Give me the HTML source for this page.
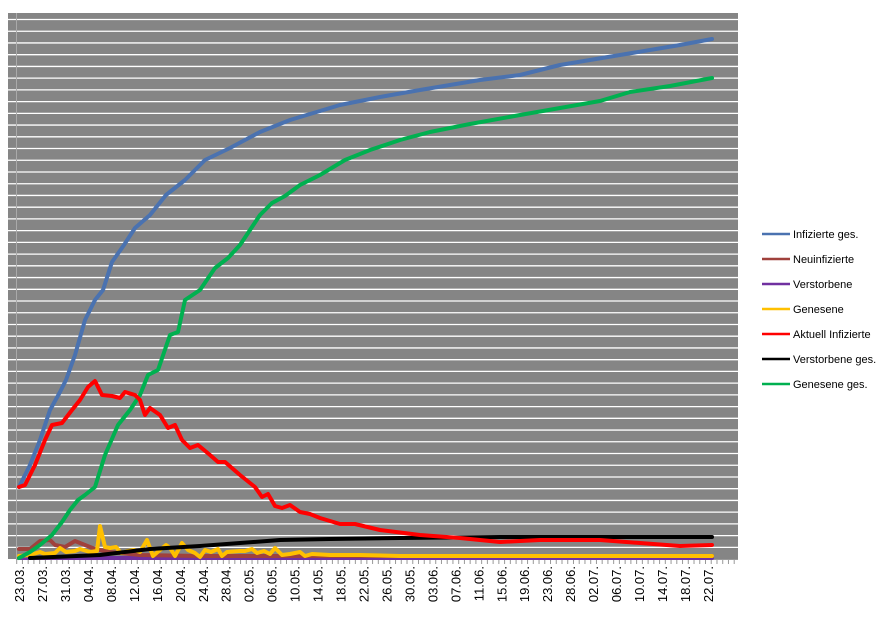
<!DOCTYPE html>
<html><head><meta charset="utf-8"><style>
body{margin:0;background:#fff;}
svg{display:block;font-family:"Liberation Sans",sans-serif;}
</style></head><body>
<svg width="890" height="628" viewBox="0 0 890 628" xmlns="http://www.w3.org/2000/svg">
<rect x="8" y="13" width="730" height="546" fill="#858585"/>
<g id="grid" stroke="#fff" stroke-width="1.3"></g>
<line x1="16.5" y1="13" x2="16.5" y2="559" stroke="#aaa" stroke-width="1"/>
<line x1="16" y1="559.5" x2="738" y2="559.5" stroke="#999" stroke-width="1"/>
<g id="ticks" stroke="#999" stroke-width="1"></g>
<g id="labels" font-size="13" fill="#000"></g>
<g fill="none" stroke-width="4" stroke-linejoin="round" stroke-linecap="round">
<polyline stroke="#7030a0" points="19,558 712,558"/>
<polyline stroke="#a0413c" points="19,549 30,549 40,541 50,540 55,545 65,547 75,541 85,545 95,549 110,552 140,555 200,556 712,556"/>
<polyline stroke="#ffc000" points="19,556 30,555 40,552 45,554 55,553 60,548 66,552 75,551 80,549 90,552 97,551 100,526 105,547 110,548 116,547 121,553 128,551 134,550 140,552 147,540 153,556 160,550 166,545 170,548 175,556 182,543 188,550 195,553 200,557 205,550 211,552 218,549 222,556 227,552 240,551 245,551 252,549 257,553 264,551 270,554 275,548 282,555 290,554 300,552 305,556 312,554 330,555 360,555 400,556 440,556 480,556 520,556 560,556 620,556 712,556"/>
<polyline stroke="#000" points="30,558 100,555 150,549 200,546 240,543 280,540 330,539 400,538 500,537 600,537 712,537"/>
<polyline stroke="#00b050" points="19,558 30,552 40,545 52,535 62,522 70,510 78,500 85,495 95,487 105,455 118,425 130,410 140,395 148,375 158,370 170,335 178,332 185,300 200,290 215,268 228,258 240,245 250,230 260,215 272,203 285,196 300,185 320,175 345,160 370,150 400,140 430,132 470,124 520,115 560,108 600,101 630,92 670,86 712,78"/>
<polyline stroke="#4a72b0" points="19,487 30,465 40,440 50,410 60,392 66,380 75,355 85,320 95,300 103,290 112,262 124,245 135,228 150,215 166,195 185,180 205,160 230,148 260,132 290,120 340,105 380,97 420,90 480,80 520,75 560,65 620,55 680,45 712,39"/>
<polyline stroke="#ff0000" points="19,487 25,485 35,465 45,440 52,425 62,423 72,410 80,400 88,387 95,381 102,395 112,396 120,398 125,392 135,395 140,400 145,415 150,408 160,415 168,428 175,425 182,440 190,448 198,445 210,455 218,462 225,462 240,475 255,487 262,497 268,494 275,506 282,508 290,505 300,512 310,514 320,518 340,524 355,524 380,530 420,535 460,538 500,542 540,540 600,540 640,543 680,546 712,545"/>
</g>
<g font-size="11" fill="#000">
<line x1="762" y1="234" x2="790" y2="234" stroke="#4a72b0" stroke-width="2.5"/><text x="793" y="238">Infizierte ges.</text>
<line x1="762" y1="259" x2="790" y2="259" stroke="#a0413c" stroke-width="2.5"/><text x="793" y="263">Neuinfizierte</text>
<line x1="762" y1="284" x2="790" y2="284" stroke="#7030a0" stroke-width="2.5"/><text x="793" y="288">Verstorbene</text>
<line x1="762" y1="309" x2="790" y2="309" stroke="#ffc000" stroke-width="2.5"/><text x="793" y="313">Genesene</text>
<line x1="762" y1="334" x2="790" y2="334" stroke="#ff0000" stroke-width="2.5"/><text x="793" y="338">Aktuell Infizierte</text>
<line x1="762" y1="359" x2="790" y2="359" stroke="#000" stroke-width="2.5"/><text x="793" y="363">Verstorbene ges.</text>
<line x1="762" y1="384" x2="790" y2="384" stroke="#00b050" stroke-width="2.5"/><text x="793" y="388">Genesene ges.</text>
</g>
</svg>
<script>
(function(){
var ns="http://www.w3.org/2000/svg";
var g=document.getElementById("grid");
for(var k=0;k<46;k++){var y=19.5+11.73*k;var l=document.createElementNS(ns,"line");l.setAttribute("x1",8);l.setAttribute("x2",738);l.setAttribute("y1",y);l.setAttribute("y2",y);g.appendChild(l);}
var t=document.getElementById("ticks");
for(var i=0;i<=126;i++){var x=16.7+5.74*i;if(x>738)break;var l=document.createElementNS(ns,"line");l.setAttribute("x1",x);l.setAttribute("x2",x);l.setAttribute("y1",559);l.setAttribute("y2",564);t.appendChild(l);}
var lab=document.getElementById("labels");
var L=["23.03.","27.03.","31.03.","04.04.","08.04.","12.04.","16.04.","20.04.","24.04.","28.04.","02.05.","06.05.","10.05.","14.05.","18.05.","22.05.","26.05.","30.05.","03.06.","07.06.","11.06.","15.06.","19.06.","23.06.","28.06.","02.07.","06.07.","10.07.","14.07.","18.07.","22.07."];
for(var i=0;i<L.length;i++){var x=19.6+5.74*4*i+4.5;var tx=document.createElementNS(ns,"text");tx.setAttribute("transform","translate("+x+",566) rotate(-90)");tx.setAttribute("text-anchor","end");tx.textContent=L[i];lab.appendChild(tx);}
})();
</script>
</body></html>
